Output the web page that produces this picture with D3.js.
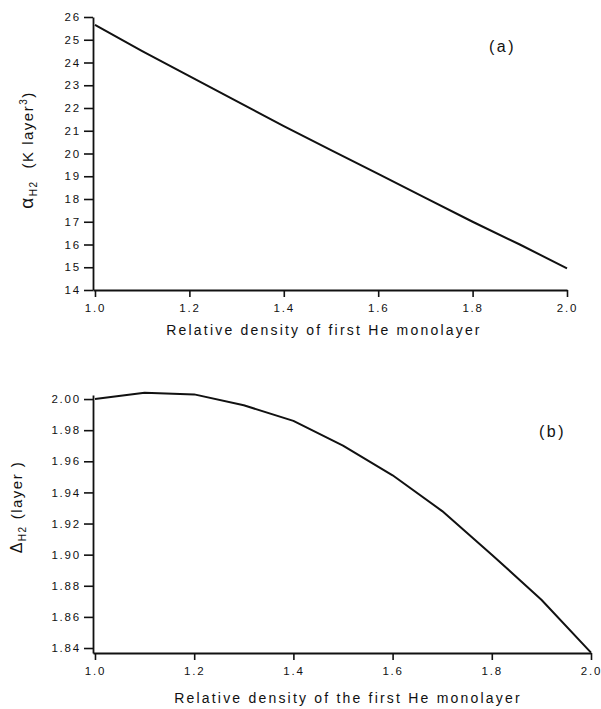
<!DOCTYPE html>
<html>
<head>
<meta charset="utf-8">
<script src="https://cdn.jsdelivr.net/npm/d3@7"></script>
<style>
  body { margin: 0; background: #fff; }
  svg { display: block; }
  text { font-family: 'Liberation Sans', Arial, sans-serif; fill: #111; }
</style>
</head>
<body>
<div id="chart"></div>
<script>
// x values shared by both panels
const density = [1.0, 1.1, 1.2, 1.3, 1.4, 1.5, 1.6, 1.7, 1.8, 1.9, 2.0];
// panel (a): alpha_H2 (K layer^3)
const alphaH2 = [25.65, 24.5, 23.4, 22.3, 21.2, 20.15, 19.1, 18.05, 17.0, 16.0, 14.95];
// panel (b): Delta_H2 (layer)
const deltaH2 = [2.000, 2.004, 2.003, 1.996, 1.986, 1.970, 1.951, 1.928, 1.900, 1.871, 1.837];

const xTicks = [1.0, 1.2, 1.4, 1.6, 1.8, 2.0];
const alphaTicks = [14, 15, 16, 17, 18, 19, 20, 21, 22, 23, 24, 25, 26];
const deltaTicks = [1.84, 1.86, 1.88, 1.90, 1.92, 1.94, 1.96, 1.98, 2.00];

const width = 601;
const height = 709;

const svg = d3.select('#chart')
  .append('svg')
  .attr('width', width)
  .attr('height', height);

function drawPanel(cfg) {
  const g = svg.append('g');
  const x = d3.scaleLinear().domain(cfg.xDomain).range(cfg.xRange);
  const y = d3.scaleLinear().domain(cfg.yDomain).range(cfg.yRange);

  const xAxis = g.append('g')
    .attr('transform', `translate(0,${cfg.yRange[0]})`)
    .call(d3.axisBottom(x)
      .tickValues(xTicks)
      .tickFormat(d3.format('.1f'))
      .tickSize(7)
      .tickSizeOuter(0)
      .tickPadding(cfg.xPad));

  const yAxis = g.append('g')
    .attr('transform', `translate(${cfg.xRange[0]},0)`)
    .call(d3.axisLeft(y)
      .tickValues(cfg.yTicks)
      .tickFormat(cfg.yFormat)
      .tickSize(9)
      .tickSizeOuter(0)
      .tickPadding(3));

  [xAxis, yAxis].forEach(ax => {
    ax.select('.domain').attr('stroke', '#111').attr('stroke-width', 1.8);
    ax.selectAll('.tick line').attr('stroke', '#111').attr('stroke-width', 1.6);
    ax.selectAll('.tick text')
      .attr('font-size', '11.5px')
      .style('letter-spacing', '1.8px')
      .style('font-family', "'Liberation Sans', Arial, sans-serif")
      .attr('fill', '#222');
  });

  const line = d3.line()
    .x((d, i) => x(density[i]))
    .y(d => y(d));

  g.append('path')
    .datum(cfg.values)
    .attr('fill', 'none')
    .attr('stroke', '#111')
    .attr('stroke-width', 2)
    .attr('stroke-linejoin', 'round')
    .attr('d', line);

  g.append('text')
    .attr('x', cfg.xLabelPos[0])
    .attr('y', cfg.xLabelPos[1])
    .attr('text-anchor', 'middle')
    .attr('font-size', '14px')
    .style('letter-spacing', '2.2px')
    .text(cfg.xLabel);

  g.append('text')
    .attr('x', cfg.tagPos[0])
    .attr('y', cfg.tagPos[1])
    .attr('font-size', '16px')
    .style('letter-spacing', '2.5px')
    .text(cfg.tag);

  const yl = g.append('text')
    .attr('transform', `translate(${cfg.yLabelPos[0]},${cfg.yLabelPos[1]}) rotate(-90)`)
    .attr('text-anchor', 'middle')
    .attr('font-size', '15px')
    .style('letter-spacing', '1.5px');
  cfg.yLabel(yl);
}

drawPanel({
  xDomain: [0.9958, 2.0],
  xRange: [93, 567],
  yDomain: [14, 26],
  yRange: [290, 17],
  yTicks: alphaTicks,
  yFormat: d3.format('d'),
  values: alphaH2,
  xPad: 7,
  xLabel: 'Relative density of first He monolayer',
  xLabelPos: [324, 335],
  tag: '(a)',
  tagPos: [489, 52],
  yLabelPos: [33, 150],
  yLabel: t => {
    t.append('tspan').attr('font-size', '19px').text('α');
    t.append('tspan').attr('font-size', '10px').attr('dy', 4).text('H2');
    t.append('tspan').attr('dy', -4).attr('dx', 12).text('(K  layer');
    t.append('tspan').attr('font-size', '10px').attr('dy', -6).text('3');
    t.append('tspan').attr('dy', 6).text(')');
  }
});

drawPanel({
  xDomain: [0.996, 2.0],
  xRange: [93, 591],
  yDomain: [1.8368, 2.0026],
  yRange: [653, 395],
  yTicks: deltaTicks,
  yFormat: d3.format('.2f'),
  values: deltaH2,
  xPad: 7,
  xLabel: 'Relative density of the first He monolayer',
  xLabelPos: [348, 703],
  tag: '(b)',
  tagPos: [539, 437],
  yLabelPos: [22, 507],
  yLabel: t => {
    t.append('tspan').attr('font-size', '16px').text('Δ');
    t.append('tspan').attr('font-size', '10px').attr('dy', 4).text('H2');
    t.append('tspan').attr('dy', -4).attr('dx', 6).text('(layer  )');
  }
});
</script>
</body>
</html>
